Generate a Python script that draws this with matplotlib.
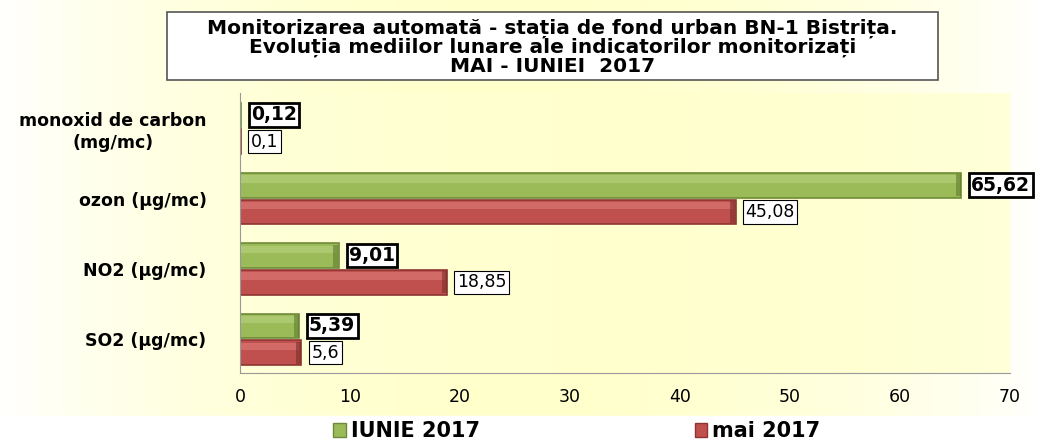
import numpy as np
import matplotlib
matplotlib.use('Agg')
import matplotlib.pyplot as plt
from matplotlib.patches import Patch, Rectangle

plt.rcParams['font.family'] = ['DejaVu Sans']

categories = ['SO2 (µg/mc)', 'NO2 (µg/mc)', 'ozon (µg/mc)', 'monoxid de carbon\n(mg/mc)']
iunie = [5.39, 9.01, 65.62, 0.12]
mai = [5.6, 18.85, 45.08, 0.1]
iunie_labels = ['5,39', '9,01', '65,62', '0,12']
mai_labels = ['5,6', '18,85', '45,08', '0,1']
xticks = [0, 10, 20, 30, 40, 50, 60, 70]
series_names = ['IUNIE 2017', 'mai 2017']

green = '#9bbb59'
red = '#c0504d'

fig = plt.figure(figsize=(10.43, 4.41), dpi=100)

# background: white at the sides, pale yellow in the middle
bg = fig.add_axes([0, 0, 1, 1], zorder=-10)
gx = np.linspace(0, 1, 400)
prof = np.clip(np.sin(np.pi * gx) ** 0.8, 0, 1)
img = np.ones((2, 400, 3))
img[..., 2] = 1.0 - 0.2 * prof
bg.imshow(img, aspect='auto', extent=[0, 1, 0, 1], origin='lower')
bg.axhspan(0, 0.057, color='white')
bg.set_xlim(0, 1)
bg.set_ylim(0, 1)
bg.set_axis_off()

ax = fig.add_axes([0.230, 0.154, 0.738, 0.635])
pg = np.ones((2, 400, 3))
pg[..., 2] = 0.85 - 0.04 * np.sin(np.pi * np.linspace(0, 1, 400))
ax.imshow(pg, aspect='auto', extent=[0, 70, -0.48, 3.5], origin='lower', zorder=0)

y = np.arange(len(categories))
off = 0.19
h = 0.35
gb = ax.barh(y + off, iunie, height=h, color=green, edgecolor='#6f8a3a', linewidth=1.2, zorder=2)
rb = ax.barh(y - off, mai, height=h, color=red, edgecolor='#8c3532', linewidth=1.2, zorder=2)

# simple bevel: light strip on top, dark end cap
for bars, c, d in ((gb, '#b9d37f', '#5f7a2e'), (rb, '#df7d79', '#7a2e2b')):
    for b in bars:
        if b.get_width() > 0.5:
            ax.barh(b.get_y() + b.get_height() * 0.75, b.get_width() - 0.3, height=b.get_height() * 0.3,
                    left=0.1, color=c, linewidth=0, alpha=0.6, zorder=3)
            ax.barh(b.get_y() + b.get_height() / 2, 0.45, height=b.get_height() * 0.9,
                    left=b.get_width() - 0.5, color=d, linewidth=0, alpha=0.6, zorder=3)

for yi, v, lab in zip(y, iunie, iunie_labels):
    ax.text(v + 0.9, yi + off, lab, va='center', ha='left', fontsize=13.5, fontweight='bold', zorder=4,
            bbox=dict(boxstyle='square,pad=0.12', facecolor='white', edgecolor='black', linewidth=2))
for yi, v, lab in zip(y, mai, mai_labels):
    ax.text(v + 0.9, yi - off, lab, va='center', ha='left', fontsize=12.5, zorder=4,
            bbox=dict(boxstyle='square,pad=0.15', facecolor='white', edgecolor='black', linewidth=0.8))

ax.set_xlim(0, 70)
ax.set_ylim(-0.48, 3.5)
ax.set_xticks(xticks)
ax.set_xticklabels([str(v) for v in xticks], fontsize=12.5)
ax.set_yticks(y)
ax.set_yticklabels(categories, fontsize=12.5, fontweight='bold', linespacing=1.25,
                   multialignment='center')
ax.tick_params(length=0, pad=24)
ax.tick_params(axis='x', pad=11)
for s in ['top', 'right']:
    ax.spines[s].set_visible(False)
ax.spines['left'].set_color('#999999')
ax.spines['bottom'].set_color('#999999')

# title box
fig.patches.append(Rectangle((0.160, 0.8186), 0.739, 0.154, transform=fig.transFigure,
                             facecolor='white', edgecolor='#555555', linewidth=1.2))
fig.text(0.5295, 0.893, 'Monitorizarea automată - stația de fond urban BN-1 Bistrița.\n'
         'Evoluția mediilor lunare ale indicatorilor monitorizați\nMAI - IUNIEI  2017',
         ha='center', va='center', fontsize=14.5, fontweight='bold', linespacing=0.97)

handles = [Patch(facecolor=green, edgecolor='#6f8a3a'), Patch(facecolor=red, edgecolor='#8c3532')]
fig.legend(handles, series_names, loc='center', bbox_to_anchor=(0.553, 0.022), ncol=2, frameon=False,
           prop={'weight': 'bold', 'size': 15}, columnspacing=10.3, handlelength=0.6, handleheight=0.6,
           handletextpad=0.25, borderpad=0)

fig.savefig('out.png', dpi=100)
